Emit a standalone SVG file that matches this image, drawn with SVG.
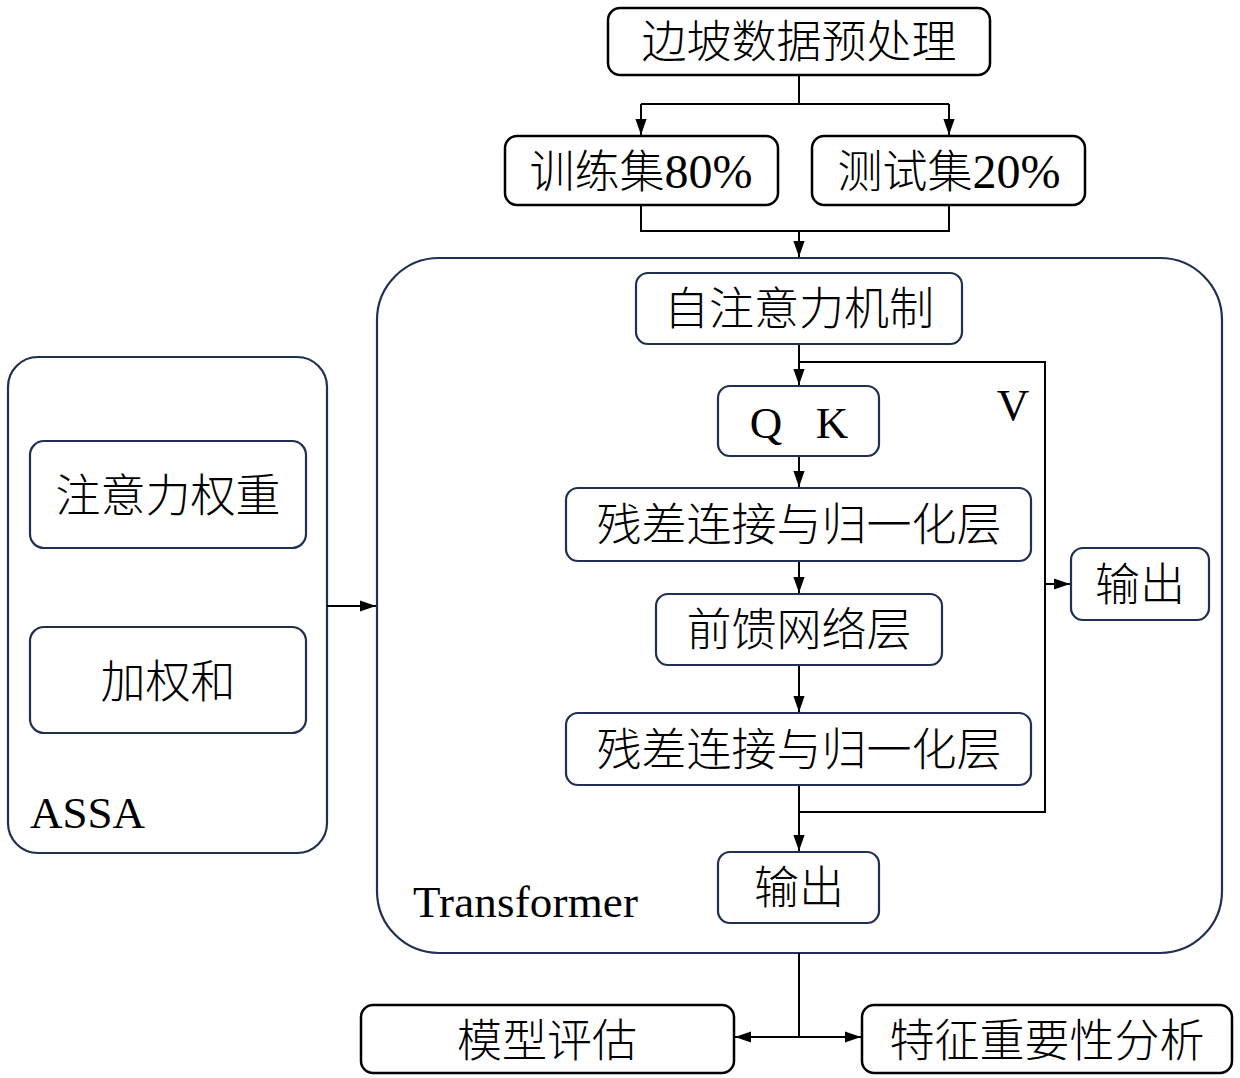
<svg xmlns="http://www.w3.org/2000/svg" width="1240" height="1078" viewBox="0 0 1240 1078">
<defs>
<style>
.bk{fill:#fff;stroke:#000;stroke-width:2.5}
.nv{fill:#fff;stroke:#1f3050;stroke-width:2.2}
.fr{fill:none;stroke:#1f3050;stroke-width:2.2}
.cn{font-family:"Noto Sans CJK SC","Liberation Sans",sans-serif;font-weight:300;font-size:45px;fill:#000;text-anchor:middle}
.lt{font-family:"Liberation Serif",serif;font-size:45px;fill:#000}
.ln{fill:none;stroke:#000;stroke-width:2}
</style>
<marker id="a2" viewBox="0 0 10 10" refX="10" refY="5" markerWidth="16" markerHeight="16" markerUnits="userSpaceOnUse" orient="auto-start-reverse">
<path d="M0,1.5L10,5L0,8.5z" fill="#000"/>
</marker>
</defs>
<rect width="1240" height="1078" fill="#fff"/>

<g id="transformer">
<rect class="fr" x="377" y="258" width="845" height="695" rx="62"/>
<text class="lt" x="413" y="917" textLength="225">Transformer</text>
</g>
<g id="assa">
<rect class="fr" x="8" y="357" width="319" height="496" rx="30"/>
<text class="lt" x="30" y="828">ASSA</text>
</g>

<g id="connectors">
<path class="ln" d="M799,75V104M641,104H949"/>
<path class="ln" d="M641,104V135" marker-end="url(#a2)"/>
<path class="ln" d="M949,104V135" marker-end="url(#a2)"/>
<path class="ln" d="M641,205V231H949V205M799,231V257" marker-end="url(#a2)"/>
<path class="ln" d="M799,344V385" marker-end="url(#a2)"/>
<path class="ln" d="M799,362H1045V812H799"/>
<path class="ln" d="M1045,584H1070" marker-end="url(#a2)"/>
<path class="ln" d="M799,456V487" marker-end="url(#a2)"/>
<path class="ln" d="M799,561V593" marker-end="url(#a2)"/>
<path class="ln" d="M799,665V712" marker-end="url(#a2)"/>
<path class="ln" d="M799,785V851" marker-end="url(#a2)"/>
<path class="ln" d="M327,606H376" marker-end="url(#a2)"/>
<path class="ln" d="M799,953V1037"/>
<path class="ln" d="M799,1037H735" marker-end="url(#a2)"/>
<path class="ln" d="M799,1037H861" marker-end="url(#a2)"/>
</g>

<g id="preprocess"><rect class="bk" x="608" y="8" width="382" height="67" rx="12"/><text class="cn" x="799" y="58">边坡数据预处理</text></g>
<g id="train"><rect class="bk" x="505" y="136" width="273" height="69" rx="12"/><text class="cn" x="641" y="188">训练集<tspan font-family="Liberation Serif" font-weight="400" font-size="48">80%</tspan></text></g>
<g id="test"><rect class="bk" x="812" y="136" width="273" height="69" rx="12"/><text class="cn" x="949" y="188">测试集<tspan font-family="Liberation Serif" font-weight="400" font-size="48">20%</tspan></text></g>

<g id="selfattn"><rect class="nv" x="636" y="273" width="326" height="71" rx="12"/><text class="cn" x="799" y="325">自注意力机制</text></g>
<g id="qk"><rect class="nv" x="718" y="386" width="161" height="70" rx="12"/><text class="lt" x="799" y="438" text-anchor="middle" xml:space="preserve">Q   K</text></g>
<g id="vlabel"><text class="lt" x="1013" y="420" text-anchor="middle">V</text></g>
<g id="resnorm1"><rect class="nv" x="566" y="488" width="465" height="73" rx="12"/><text class="cn" x="799" y="541">残差连接与归一化层</text></g>
<g id="ffn"><rect class="nv" x="656" y="594" width="286" height="71" rx="12"/><text class="cn" x="799" y="646">前馈网络层</text></g>
<g id="resnorm2"><rect class="nv" x="566" y="713" width="465" height="72" rx="12"/><text class="cn" x="799" y="766">残差连接与归一化层</text></g>
<g id="out1"><rect class="nv" x="718" y="852" width="161" height="71" rx="12"/><text class="cn" x="799" y="904">输出</text></g>
<g id="out2"><rect class="nv" x="1071" y="548" width="138" height="72" rx="12"/><text class="cn" x="1140" y="601">输出</text></g>

<g id="attnweight"><rect class="nv" x="30" y="441" width="276" height="107" rx="14"/><text class="cn" x="168" y="512">注意力权重</text></g>
<g id="weightedsum"><rect class="nv" x="30" y="627" width="276" height="106" rx="14"/><text class="cn" x="168" y="698">加权和</text></g>

<g id="evaluate"><rect class="bk" x="361" y="1005" width="373" height="68" rx="12"/><text class="cn" x="547" y="1057">模型评估</text></g>
<g id="importance"><rect class="bk" x="862" y="1005" width="370" height="68" rx="12"/><text class="cn" x="1047" y="1057">特征重要性分析</text></g>
</svg>
